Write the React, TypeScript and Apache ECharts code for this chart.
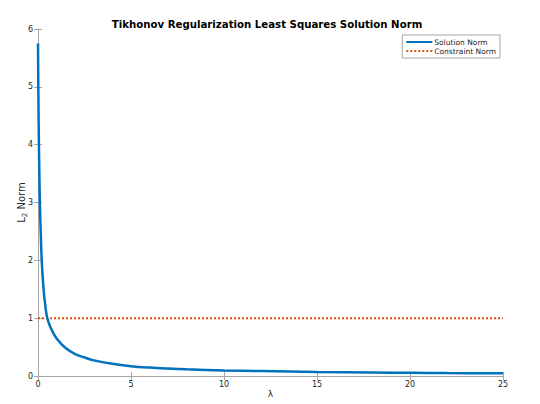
import React, { useEffect, useRef } from "react";
import * as echarts from "echarts";

const lambdaValues = [0, 0.02, 0.05, 0.1, 0.15, 0.2, 0.3, 0.4, 0.5, 0.7, 1, 1.5, 2, 2.5, 3, 4, 5, 6, 7, 8, 10, 12, 15, 18, 20, 22, 25];
const solutionNorm = [5.75, 4.9, 4.0, 3.0, 2.45, 2.0, 1.5, 1.2, 1.0, 0.82, 0.65, 0.48, 0.38, 0.32, 0.27, 0.21, 0.17, 0.145, 0.128, 0.115, 0.097, 0.085, 0.07, 0.06, 0.055, 0.051, 0.046];
const constraintX = [0, 25];
const constraintNorm = [1, 1];

const FONT = "DejaVu Sans";
const AXIS_COLOR = "#a6a6a6";
const TEXT_COLOR = "#262626";

export default function App() {
  const ref = useRef<HTMLDivElement>(null);
  useEffect(() => {
    if (!ref.current) return;
    const chart = echarts.init(ref.current, undefined, { renderer: "svg" });
    const hiddenAxis = {
      axisLine: { show: true, lineStyle: { color: AXIS_COLOR, width: 1 } },
      axisTick: { show: true, inside: true, length: 4, lineStyle: { color: AXIS_COLOR } },
      axisLabel: { show: false },
      splitLine: { show: false },
    };
    chart.setOption({
      animation: false,
      backgroundColor: "#ffffff",
      textStyle: { fontFamily: FONT },
      title: {
        text: "Tikhonov Regularization Least Squares Solution Norm",
        left: 262,
        textAlign: "center",
        top: 14,
        textStyle: { fontFamily: FONT, fontSize: 10.2, fontWeight: "bold", color: "#000000" },
      },
      grid: { left: 38, right: 37, top: 29, bottom: 28, containLabel: false, outerBoundsMode: "none" },
      legend: {
        orient: "vertical",
        right: 40,
        top: 35,
        backgroundColor: "#ffffff",
        borderColor: "#a6a6a6",
        borderWidth: 1,
        borderRadius: 0,
        padding: [3, 4, 3, 3],
        itemGap: 1,
        itemWidth: 26,
        itemHeight: 8,
        itemStyle: { color: "transparent", borderWidth: 0, opacity: 0 },
        textStyle: { fontFamily: FONT, fontSize: 7.5, color: TEXT_COLOR, padding: [0, 0, 0, -3] },
        data: ["Solution Norm", "Constraint Norm"],
      },
      xAxis: [
        {
          type: "value",
          min: 0,
          max: 25,
          interval: 5,
          name: "λ",
          nameLocation: "middle",
          nameGap: 13,
          nameMoveOverlap: false,
          nameTextStyle: { fontFamily: FONT, fontSize: 9, color: TEXT_COLOR },
          axisLine: { show: true, onZero: false, lineStyle: { color: AXIS_COLOR, width: 1 } },
          axisTick: { show: true, inside: true, length: 4, lineStyle: { color: AXIS_COLOR } },
          axisLabel: { fontFamily: FONT, fontSize: 8, color: TEXT_COLOR, margin: 4 },
          splitLine: { show: false },
        },
        { type: "value", position: "top", min: 0, max: 25, interval: 5, ...hiddenAxis },
      ],
      yAxis: [
        {
          type: "value",
          min: 0,
          max: 6,
          interval: 1,
          name: "{a|L}{b|2}{a| Norm}",
          nameLocation: "middle",
          nameGap: 10,
          nameMoveOverlap: false,
          nameRotate: 90,
          nameTextStyle: {
            fontFamily: FONT,
            fontSize: 10,
            color: TEXT_COLOR,
            rich: {
              a: { fontFamily: FONT, fontSize: 10, color: TEXT_COLOR, lineHeight: 14, verticalAlign: "middle" },
              b: { fontFamily: FONT, fontSize: 7, color: TEXT_COLOR, lineHeight: 14, verticalAlign: "bottom" },
            },
          },
          axisLine: { show: true, onZero: false, lineStyle: { color: AXIS_COLOR, width: 1 } },
          axisTick: { show: true, inside: true, length: 4, lineStyle: { color: AXIS_COLOR } },
          axisLabel: { fontFamily: FONT, fontSize: 8, color: TEXT_COLOR, margin: 5 },
          splitLine: { show: false },
        },
        { type: "value", position: "right", min: 0, max: 6, interval: 1, ...hiddenAxis },
      ],
      series: [
        {
          name: "Solution Norm",
          type: "line",
          smooth: 0.4,
          showSymbol: false,
          symbol: "none",
          data: lambdaValues.map((x, i) => [x, solutionNorm[i]]),
          lineStyle: { color: "#0072BD", width: 2.5 },
          itemStyle: { color: "#0072BD" },
          z: 3,
        },
        {
          name: "Constraint Norm",
          type: "line",
          showSymbol: false,
          symbol: "none",
          data: constraintX.map((x, i) => [x, constraintNorm[i]]),
          lineStyle: { color: "#D95319", width: 2, type: [2, 2] },
          itemStyle: { color: "#D95319" },
          z: 2,
        },
      ],
    });
    return () => chart.dispose();
  }, []);
  return <div ref={ref} style={{ position: "fixed", left: 0, top: 0, width: 540, height: 404 }} />;
}
